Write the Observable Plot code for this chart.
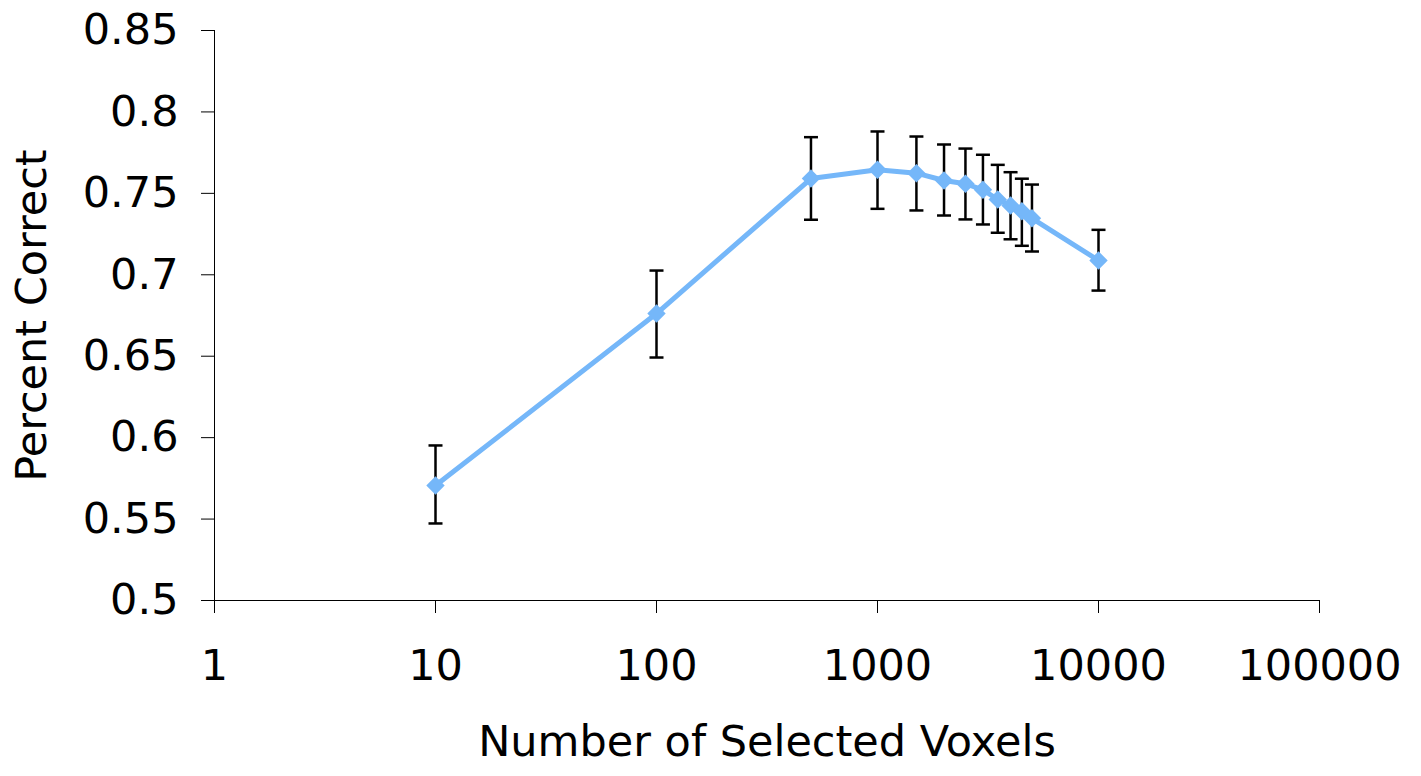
<!DOCTYPE html>
<html>
<head>
<meta charset="utf-8">
<script src="https://cdn.jsdelivr.net/npm/d3@7"></script>
<script src="https://cdn.jsdelivr.net/npm/@observablehq/plot@0.6"></script>
<style>
  html, body { margin: 0; padding: 0; background: #ffffff; }
  #chart svg { display: block; }
</style>
</head>
<body>
<div id="chart"></div>
<script>
// ---- data ----
const voxels = [10, 100, 500, 1000, 1500, 2000, 2500, 3000, 3500, 4000, 4500, 5000, 10000];
const percentCorrect = [0.5706, 0.6762, 0.7591, 0.7645, 0.7624, 0.7579, 0.7559, 0.7522, 0.7462, 0.7425, 0.7390, 0.7347, 0.7088];
const errHigh = [0.5952, 0.7026, 0.7845, 0.7880, 0.7849, 0.7800, 0.7775, 0.7737, 0.7675, 0.7630, 0.7590, 0.7554, 0.7276];
const errLow  = [0.5473, 0.6492, 0.7338, 0.7405, 0.7395, 0.7364, 0.7340, 0.7309, 0.7258, 0.7218, 0.7178, 0.7143, 0.6903];

const xTicks = [1, 10, 100, 1000, 10000, 100000];
const xTickLabels = ["1", "10", "100", "1000", "10000", "100000"];
const yTicks = [0.5, 0.55, 0.6, 0.65, 0.7, 0.75, 0.8, 0.85];
const yTickLabels = ["0.5", "0.55", "0.6", "0.65", "0.7", "0.75", "0.8", "0.85"];

const xLabel = "Number of Selected Voxels";
const yLabel = "Percent Correct";

const table = voxels.map((v, i) => ({x: v, y: percentCorrect[i], lo: errLow[i], hi: errHigh[i]}));

const lineColor = "#75b7f9";
const font = "DejaVu Sans, Verdana, sans-serif";
const fs = 43;

// horizontal cap symbol for error bars
const capSymbol = {
  draw(ctx, size) {
    const r = Math.sqrt(size / Math.PI);
    ctx.moveTo(-r, 0);
    ctx.lineTo(r, 0);
  }
};

const chart = Plot.plot({
  width: 1421,
  height: 776,
  marginLeft: 214,
  marginRight: 102,
  marginTop: 30,
  marginBottom: 176,
  style: {fontFamily: font, fontSize: fs + "px", color: "black", background: "white"},
  x: {type: "log", domain: [1, 100000]},
  y: {domain: [0.5, 0.85]},
  marks: [
    Plot.axisY({
      ticks: yTicks,
      tickFormat: d => yTickLabels[yTicks.indexOf(d)],
      tickSize: 13,
      tickPadding: 23,
      label: null,
      stroke: "black",
      fontSize: fs,
      fontFamily: font
    }),
    Plot.axisX({
      ticks: xTicks,
      tickFormat: d => xTickLabels[xTicks.indexOf(d)],
      tickSize: 13,
      tickPadding: 36,
      label: null,
      stroke: "black",
      fontSize: fs,
      fontFamily: font
    }),
    Plot.ruleX([1], {stroke: "black", strokeWidth: 1}),
    Plot.ruleY([0.5], {stroke: "black", strokeWidth: 1}),
    // error bars
    Plot.ruleX(table, {x: "x", y1: "lo", y2: "hi", stroke: "black", strokeWidth: 2.5}),
    Plot.dot(table, {x: "x", y: "hi", symbol: capSymbol, r: 7, fill: "none", stroke: "black", strokeWidth: 2.5}),
    Plot.dot(table, {x: "x", y: "lo", symbol: capSymbol, r: 7, fill: "none", stroke: "black", strokeWidth: 2.5}),
    // series
    Plot.line(table, {x: "x", y: "y", stroke: lineColor, strokeWidth: 5}),
    Plot.dot(table, {x: "x", y: "y", symbol: "diamond2", r: 8.3, fill: lineColor, stroke: "none"}),
    // axis titles
    Plot.text([xLabel], {text: d => d, frameAnchor: "bottom", dy: 155, lineAnchor: "bottom", textAnchor: "middle", fontSize: fs, fontFamily: font, fill: "black"}),
    Plot.text([yLabel], {text: d => d, frameAnchor: "left", dx: -169, rotate: -90, lineAnchor: "bottom", textAnchor: "middle", fontSize: fs, fontFamily: font, fill: "black"})
  ]
});

document.getElementById("chart").appendChild(chart);
</script>
</body>
</html>
